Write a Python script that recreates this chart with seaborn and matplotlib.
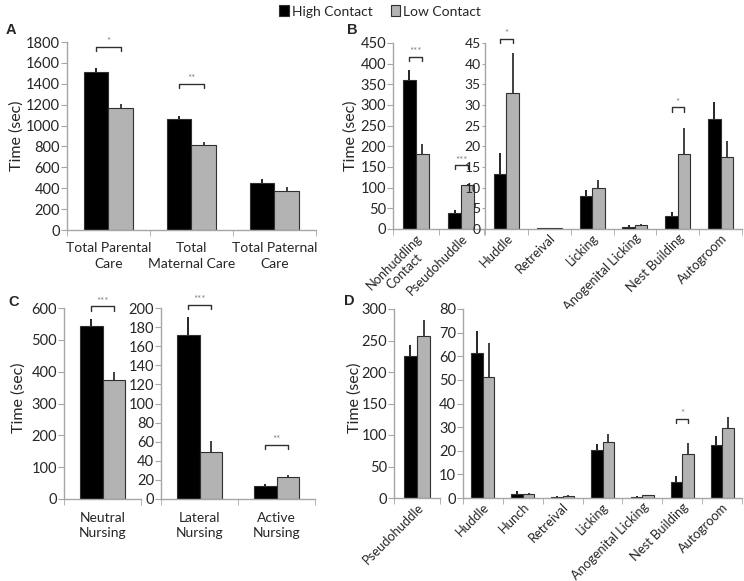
import numpy as np
import pandas as pd
import matplotlib.pyplot as plt
import seaborn as sns
from matplotlib.ticker import FixedLocator
from matplotlib.patches import Patch

sns.set_style('white')
plt.rcParams['font.family'] = ['Lato', 'DejaVu Sans']

groups = ['High Contact', 'Low Contact']
colors = ['#000000', '#b3b3b3']

# panel A
a_cats = ['Total Parental\nCare', 'Total\nMaternal Care', 'Total Paternal\nCare']
a_high = [1515, 1060, 450]
a_low = [1170, 812, 370]
a_high_se = [33, 28, 40]
a_low_se = [40, 32, 40]

# panel B
b1_cats = ['Nonhuddling\nContact', 'Pseudohuddle']
b1_high = [361, 38]
b1_low = [182, 106]
b1_high_se = [24, 7]
b1_low_se = [23, 2]

b2_cats = ['Huddle', 'Retreival', 'Licking', 'Anogenital Licking', 'Nest Building', 'Autogroom']
b2_high = [13.3, 0.2, 8.0, 0.6, 3.1, 26.6]
b2_low = [32.8, 0.2, 9.8, 1.0, 18.1, 17.5]
b2_high_se = [5.0, 0.1, 1.4, 0.3, 1.0, 4.1]
b2_low_se = [9.8, 0.1, 2.0, 0.3, 6.3, 3.7]

# panel C
c1_cats = ['Neutral\nNursing']
c1_high = [545]
c1_low = [373]
c1_high_se = [20]
c1_low_se = [25]

c2_cats = ['Lateral\nNursing', 'Active\nNursing']
c2_high = [172, 14]
c2_low = [49, 23.5]
c2_high_se = [19, 1.7]
c2_low_se = [12, 1.8]

# panel D
d1_cats = ['Pseudohuddle']
d1_high = [226]
d1_low = [257]
d1_high_se = [17]
d1_low_se = [25]

d2_cats = ['Huddle', 'Hunch', 'Retreival', 'Licking', 'Anogenital Licking', 'Nest Building', 'Autogroom']
d2_high = [61.2, 1.8, 0.5, 20.5, 0.5, 6.8, 22.3]
d2_low = [51.2, 1.6, 1.0, 23.5, 1.1, 18.6, 29.5]
d2_high_se = [9.4, 1.0, 0.2, 2.3, 0.2, 2.5, 4.0]
d2_low_se = [14.4, 0.4, 0.2, 3.5, 0.2, 4.8, 4.8]

# significance brackets: (category index, height, stars)
a_sig = [(0, 1755, '*'), (1, 1395, '**')]
b1_sig = [(0, 417, '***'), (1, 154, '***')]
b2_sig = [(0, 46, '*'), (4, 29.4, '*')]
c1_sig = [(0, 605, '***')]
c2_sig = [(0, 203, '***'), (1, 57, '**')]
d2_sig = [(5, 33.6, '*')]

W, H = 744, 581
fig = plt.figure(figsize=(W / 100, H / 100), dpi=100)
spine_col = '#a6a6a6'


def make_ax(l, r, t, b):
    return fig.add_axes([l / W, 1 - b / H, (r - l) / W, (b - t) / H])


def panel(ax, cats, high, low, high_se, low_se, ymax, step, sig=(), rot=False):
    n = len(cats)
    df = pd.DataFrame({'cat': cats * 2,
                       'group': [groups[0]] * n + [groups[1]] * n,
                       'val': high + low})
    sns.barplot(data=df, x='cat', y='val', hue='group', palette=colors,
                width=0.58, gap=0, edgecolor='#303030', linewidth=0.8,
                errorbar=None, legend=False, ax=ax)
    bars = sorted(ax.patches, key=lambda p: p.get_x())
    centers = []
    for i, p in enumerate(bars):
        x = p.get_x() + p.get_width() / 2
        top = p.get_height()
        se = (high_se + low_se)[(i % 2) * n + i // 2]
        ax.vlines(x, top, top + se, color='#202020' if i % 2 else '#000000', lw=1.2, zorder=1)
        centers.append(x)
    d = ymax * 0.022
    for k, y, txt in sig:
        xa, xb = centers[2 * k], centers[2 * k + 1]
        ax.plot([xa, xa, xb, xb], [y - d, y, y, y - d], color='#303030', lw=1, clip_on=False)
        ax.text((xa + xb) / 2, y + d * 0.2, txt, ha='center', va='bottom',
                color='#808080', fontsize=7, clip_on=False)
    ax.set_ylim(0, ymax)
    ax.set_xlim(-0.5, n - 0.5)
    ax.set_yticks(np.arange(0, ymax + step / 2, step))
    ax.set_xlabel('')
    ax.set_ylabel('')
    for s in ['top', 'right']:
        ax.spines[s].set_visible(False)
    for s in ['left', 'bottom']:
        ax.spines[s].set_color(spine_col)
        ax.spines[s].set_linewidth(1)
    ax.xaxis.set_minor_locator(FixedLocator(np.arange(-0.5, n, 1.0)))
    ax.tick_params(axis='y', direction='out', length=4, color=spine_col, labelsize=10.5, pad=1, left=True)
    ax.tick_params(axis='x', which='major', length=0, labelsize=10, pad=9)
    ax.tick_params(axis='x', which='minor', direction='out', length=4, color=spine_col, bottom=True)
    if rot:
        ax.set_xticks(range(n))
        ax.set_xticklabels(cats, rotation=45, ha='right', rotation_mode='anchor',
                           multialignment='center', fontsize=9.3)
        ax.tick_params(axis='x', which='major', pad=2)
    else:
        for t in ax.get_xticklabels():
            t.set_linespacing(1.35)


axA = make_ax(67, 316, 42, 230)
panel(axA, a_cats, a_high, a_low, a_high_se, a_low_se, 1800, 200, a_sig)

axB1 = make_ax(393, 484, 43, 229)
panel(axB1, b1_cats, b1_high, b1_low, b1_high_se, b1_low_se, 450, 50, b1_sig, rot=True)
axB2 = make_ax(485, 742, 43, 229)
panel(axB2, b2_cats, b2_high, b2_low, b2_high_se, b2_low_se, 45, 5, b2_sig, rot=True)
axB2.tick_params(axis='y', labelsize=10, length=2.5, pad=0.5)

axC1 = make_ax(64, 141, 308, 499)
panel(axC1, c1_cats, c1_high, c1_low, c1_high_se, c1_low_se, 600, 100, c1_sig)
axC2 = make_ax(161, 315, 308, 499)
panel(axC2, c2_cats, c2_high, c2_low, c2_high_se, c2_low_se, 200, 20, c2_sig)

axD1 = make_ax(394, 440, 309, 498)
panel(axD1, d1_cats, d1_high, d1_low, d1_high_se, d1_low_se, 300, 50, rot=True)
axD2 = make_ax(463, 742, 309, 498)
panel(axD2, d2_cats, d2_high, d2_low, d2_high_se, d2_low_se, 80, 10, d2_sig, rot=True)

for x, y in [(17, 136), (351, 136), (19, 398), (355, 398)]:
    fig.text(x / W, 1 - y / H, 'Time (sec)', rotation=90, ha='center', va='center', fontsize=11.5)

for lab, x, y in [('A', 11, 30), ('B', 352, 30), ('C', 14, 302), ('D', 349, 301)]:
    fig.text(x / W, 1 - y / H, lab, ha='center', va='center', fontsize=10.5,
             fontweight='bold', family=['Liberation Sans', 'DejaVu Sans'])

handles = [Patch(facecolor=c, edgecolor='#303030', lw=0.8) for c in colors]
fig.legend(handles, groups, loc='upper center', bbox_to_anchor=(0.511, 1.005), ncol=2,
           frameon=False, fontsize=10, handlelength=0.7, handleheight=0.8,
           handletextpad=0.2, columnspacing=1.3, borderpad=0.1)

fig.savefig('out.png', dpi=100)
